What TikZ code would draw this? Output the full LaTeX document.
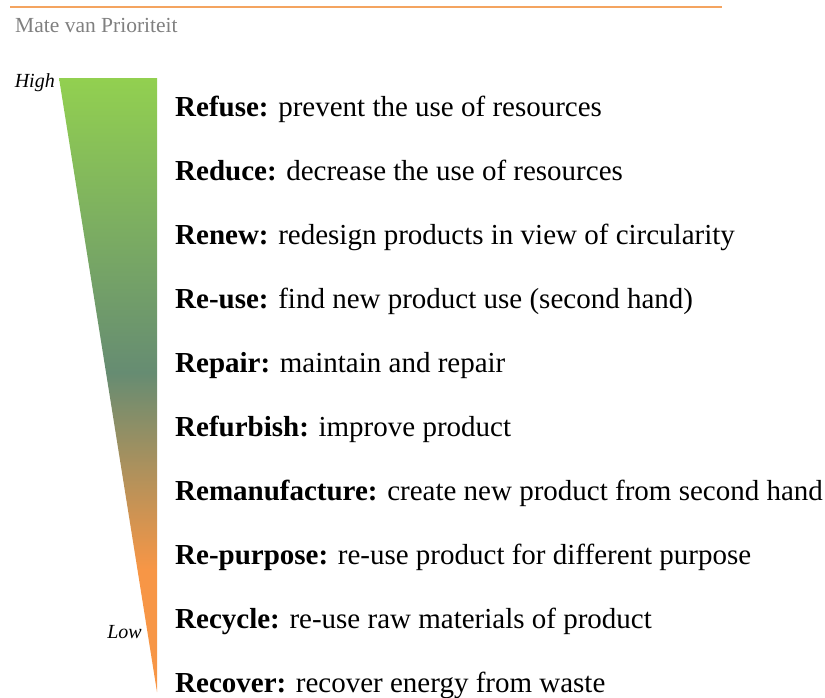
\documentclass[tikz,border=0pt]{standalone}
\usepackage{fontspec}
\setmainfont{Liberation Serif}
\definecolor{topgreen}{HTML}{92D050}
\definecolor{midgreen}{HTML}{668C72}
\definecolor{botorange}{HTML}{F79646}
\definecolor{titlegray}{HTML}{808080}
\definecolor{lineorange}{HTML}{F4A460}
\pgfdeclareverticalshading{prioshade}{100bp}{color(0bp)=(botorange); color(35bp)=(botorange); color(51bp)=(midgreen); color(75bp)=(topgreen); color(100bp)=(topgreen)}
\begin{document}
\begin{tikzpicture}[x=1pt,y=-1pt,
  item/.style={anchor=base west,inner sep=0pt,font=\fontsize{29}{34}\selectfont},
  side/.style={inner sep=0pt,font=\fontsize{20}{24}\selectfont\itshape}]
\useasboundingbox (0,0) rectangle (825,697);
\draw[lineorange,line width=2pt] (10,7) -- (722,7);
\node[anchor=base west,inner sep=0pt,text=titlegray,font=\fontsize{21.5}{25}\selectfont] (title) at (15,32) {Mate van Prioriteit};
\shade[shading=prioshade] (59,78) -- (157,78) -- (157,692) -- cycle;
\node[side,anchor=base east] (high) at (55,87) {High};
\node[side,anchor=base east] (low) at (142,638) {Low};
\node[item] (r1) at (175,116) {\textbf{Refuse:} prevent the use of resources};
\node[item] (r2) at (175,180) {\textbf{Reduce:} decrease the use of resources};
\node[item] (r3) at (175,244) {\textbf{Renew:} redesign products in view of circularity};
\node[item] (r4) at (175,308) {\textbf{Re-use:} find new product use (second hand)};
\node[item] (r5) at (175,372) {\textbf{Repair:} maintain and repair};
\node[item] (r6) at (175,436) {\textbf{Refurbish:} improve product};
\node[item] (r7) at (175,500) {\textbf{Remanufacture:} create new product from second hand};
\node[item] (r8) at (175,564) {\textbf{Re-purpose:} re-use product for different purpose};
\node[item] (r9) at (175,628) {\textbf{Recycle:} re-use raw materials of product};
\node[item] (r10) at (175,692) {\textbf{Recover:} recover energy from waste};
\end{tikzpicture}
\end{document}
